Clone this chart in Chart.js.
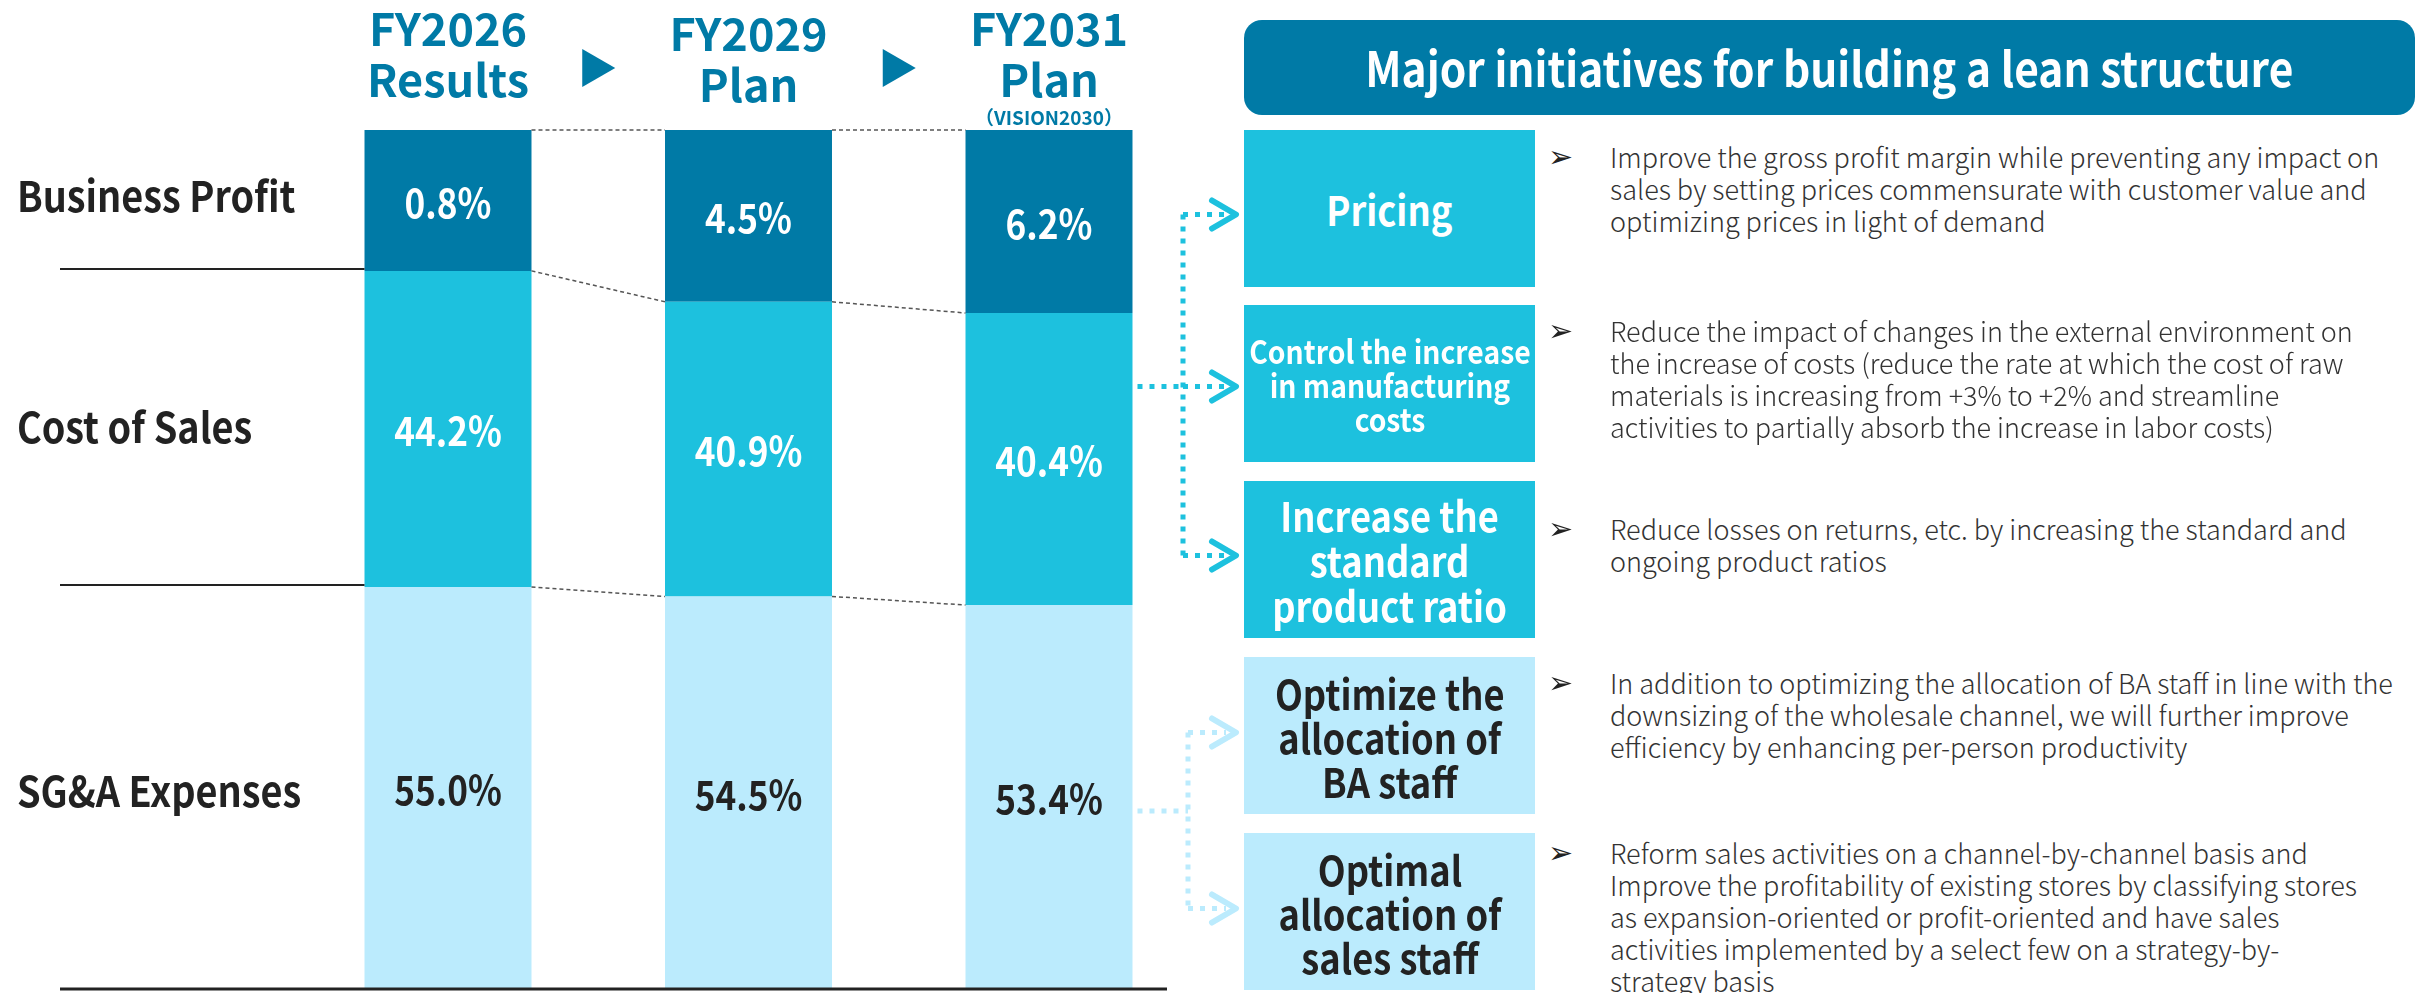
<!DOCTYPE html>
<html>
<head>
<meta charset="utf-8">
<script src="https://cdn.jsdelivr.net/npm/chart.js@4.4.1/dist/chart.umd.min.js"></script>
<style>
  body { margin: 0; width: 2433px; height: 993px; background: #fff; overflow: hidden; position: relative;
         font-family: "Noto Sans CJK JP", "Noto Sans", sans-serif; }
  #chart { position: absolute; left: 0; top: 0; }
  .title { position: absolute; left: 1244px; top: 20px; width: 1171px; height: 95px; border-radius: 18px;
           background: #007aa6; color: #fff; font-weight: 700; font-size: 48px; line-height: 93px; text-align: center; }
  .title span, .box span { display: inline-block; transform: scaleX(0.885); }
  .box { position: absolute; left: 1244px; width: 291px; height: 157px; display: flex; align-items: center;
         justify-content: center; text-align: center; font-weight: 700; white-space: nowrap; }
  .bullet { position: absolute; left: 1548px; font-family: "DejaVu Sans", sans-serif; font-size: 30px; color: #222; line-height: 32px; }
  .note { position: absolute; left: 1610px; font-size: 27px; line-height: 32px; color: #333; font-weight: 300; white-space: nowrap; }
</style>
</head>
<body>
<canvas id="chart" width="1250" height="993"></canvas>
<div class="title"><span>Major initiatives for building a lean structure</span></div>
<div id="panel"></div>
<script>
// Chart data
const years = ['FY2026', 'FY2029', 'FY2031'];
const yearSubs = ['Results', 'Plan', 'Plan'];
const rowNames = ['Business Profit', 'Cost of Sales', 'SG&A Expenses'];
const profitPct = [0.8, 4.5, 6.2];
const costPct = [44.2, 40.9, 40.4];
const sgaPct = [55.0, 54.5, 53.4];
// segment heights as drawn in the picture (share of each bar, the diagram is not to scale)
const profitShare = [16.4, 20.0, 21.3];
const costShare = [36.8, 34.3, 34.0];
const sgaShare = [46.8, 45.7, 44.7];

// Initiatives panel
const initiatives = [
    ['Pricing'],
    ['Control the increase', 'in manufacturing', 'costs'],
    ['Increase the', 'standard', 'product ratio'],
    ['Optimize the', 'allocation of', 'BA staff'],
    ['Optimal', 'allocation of', 'sales staff']
];
const notes = [
    ['Improve the gross profit margin while preventing any impact on',
     'sales by setting prices commensurate with customer value and',
     'optimizing prices in light of demand'],
    ['Reduce the impact of changes in the external environment on',
     'the increase of costs (reduce the rate at which the cost of raw',
     'materials is increasing from +3% to +2% and streamline',
     'activities to partially absorb the increase in labor costs)'],
    ['Reduce losses on returns, etc. by increasing the standard and',
     'ongoing product ratios'],
    ['In addition to optimizing the allocation of BA staff in line with the',
     'downsizing of the wholesale channel, we will further improve',
     'efficiency by enhancing per-person productivity'],
    ['Reform sales activities on a channel-by-channel basis and',
     'Improve the profitability of existing stores by classifying stores',
     'as expansion-oriented or profit-oriented and have sales',
     'activities implemented by a select few on a strategy-by-',
     'strategy basis']
];

const DARK = '#007aa6';
const CYAN = '#1dc1de';
const LIGHT = '#bbebfd';

// panel layout
const boxTops = [130, 305, 481, 657, 833];
const boxH = 157;
const noteTops = [141, 315, 513, 667, 837];
const boxStyle = [
    { bg: CYAN, color: '#fff', size: 41, lh: 45 },
    { bg: CYAN, color: '#fff', size: 32, lh: 34 },
    { bg: CYAN, color: '#fff', size: 41, lh: 45 },
    { bg: LIGHT, color: '#222', size: 41, lh: 44 },
    { bg: LIGHT, color: '#222', size: 41, lh: 44 }
];

const panel = document.getElementById('panel');
initiatives.forEach((lines, i) => {
    const b = document.createElement('div');
    b.className = 'box';
    const s = boxStyle[i];
    b.style.top = boxTops[i] + 'px';
    b.style.background = s.bg;
    b.style.color = s.color;
    b.style.fontSize = s.size + 'px';
    b.style.lineHeight = s.lh + 'px';
    b.innerHTML = '<span>' + lines.join('<br>') + '</span>';
    panel.appendChild(b);

    const bu = document.createElement('div');
    bu.className = 'bullet';
    bu.style.top = noteTops[i] + 'px';
    bu.textContent = '\u27A2';
    panel.appendChild(bu);

    const n = document.createElement('div');
    n.className = 'note';
    n.style.top = noteTops[i] + 'px';
    n.innerHTML = notes[i].join('<br>');
    panel.appendChild(n);
});

const FONT = '"Noto Sans CJK JP", "Noto Sans", sans-serif';

// text squeezed a little in x, like the condensed face of the original
function squeezed(ctx, text, x, y, sx) {
    ctx.save();
    ctx.translate(x, y);
    ctx.scale(sx, 1);
    ctx.fillText(text, 0, 0);
    ctx.restore();
}

// draws labels, connectors and headers on top of the bars
const overlay = {
    id: 'overlay',
    afterDatasetsDraw(chart) {
        const ctx = chart.ctx;
        const xs = chart.scales.x;
        const sga = chart.getDatasetMeta(0).data;
        const cost = chart.getDatasetMeta(1).data;
        const prof = chart.getDatasetMeta(2).data;
        ctx.save();

        // dashed lines between bars
        ctx.strokeStyle = '#555';
        ctx.lineWidth = 1.5;
        ctx.setLineDash([4, 3]);
        for (let i = 0; i < years.length - 1; i++) {
            const a = prof[i], b = prof[i + 1];
            const ys = [[a.y, b.y], [a.base, b.base], [cost[i].base, cost[i + 1].base]];
            ys.forEach(([y1, y2]) => {
                ctx.beginPath();
                ctx.moveTo(a.x + a.width / 2, y1);
                ctx.lineTo(b.x - b.width / 2, y2);
                ctx.stroke();
            });
        }
        ctx.setLineDash([]);

        // value labels
        ctx.font = 'bold 40px ' + FONT;
        ctx.textAlign = 'center';
        ctx.textBaseline = 'middle';
        const sets = [[prof, profitPct, '#fff'], [cost, costPct, '#fff'], [sga, sgaPct, '#222']];
        sets.forEach(([bars, vals, col]) => {
            bars.forEach((bar, i) => {
                ctx.fillStyle = col;
                squeezed(ctx, vals[i].toFixed(1) + '%', bar.x, (bar.y + bar.base) / 2 + 2, 0.88);
            });
        });

        // row labels and left rules
        ctx.textAlign = 'left';
        ctx.fillStyle = '#222';
        ctx.font = 'bold 42px ' + FONT;
        const first = [prof[0], cost[0], sga[0]];
        const shift = [-4, -2, 3];
        first.forEach((bar, r) => {
            squeezed(ctx, rowNames[r], 17, (bar.y + bar.base) / 2 + shift[r], 0.9);
        });
        ctx.strokeStyle = '#222';
        ctx.lineWidth = 2;
        const left = prof[0].x - prof[0].width / 2;
        [prof[0].base - 2, cost[0].base - 2].forEach(y => {
            ctx.beginPath();
            ctx.moveTo(60, y);
            ctx.lineTo(left, y);
            ctx.stroke();
        });
        ctx.lineWidth = 3;
        ctx.beginPath();
        ctx.moveTo(60, chart.chartArea.bottom);
        ctx.lineTo(1167, chart.chartArea.bottom);
        ctx.stroke();

        // headers
        ctx.textAlign = 'center';
        ctx.fillStyle = DARK;
        years.forEach((yr, i) => {
            const cx = xs.getPixelForValue(i);
            const dy = i === 1 ? 5 : 0;
            ctx.font = 'bold 45px ' + FONT;
            ctx.fillText(yr, cx, 29 + dy);
            ctx.fillText(yearSubs[i], cx, 80 + dy);
        });
        ctx.font = 'bold 19px ' + FONT;
        ctx.fillText('（VISION2030）', xs.getPixelForValue(2), 118);
        for (let i = 0; i < years.length - 1; i++) {
            const mx = (xs.getPixelForValue(i) + xs.getPixelForValue(i + 1)) / 2;
            ctx.beginPath();
            ctx.moveTo(mx - 16, 49);
            ctx.lineTo(mx + 17, 68);
            ctx.lineTo(mx - 16, 87);
            ctx.closePath();
            ctx.fill();
        }

        // dotted connectors to the initiative boxes
        const barRight = prof[2].x + prof[2].width / 2;
        const centers = boxTops.map(t => t + boxH / 2);
        const branch = (color, vx, fromY, targets) => {
            ctx.strokeStyle = color;
            ctx.lineWidth = 5;
            ctx.setLineDash([5, 7]);
            ctx.lineCap = 'butt';
            ctx.beginPath();
            ctx.moveTo(barRight + 5, fromY);
            ctx.lineTo(vx, fromY);
            ctx.moveTo(vx, targets[0]);
            ctx.lineTo(vx, targets[targets.length - 1]);
            targets.forEach(t => {
                ctx.moveTo(vx, t);
                ctx.lineTo(1226, t);
            });
            ctx.stroke();
            ctx.setLineDash([]);
            ctx.lineCap = 'round';
            ctx.lineJoin = 'round';
            ctx.lineWidth = 6;
            targets.forEach(t => {
                ctx.beginPath();
                ctx.moveTo(1212, t - 14);
                ctx.lineTo(1236, t);
                ctx.lineTo(1212, t + 14);
                ctx.stroke();
            });
        };
        branch(CYAN, 1183, centers[1] + 3, [centers[0] + 6, centers[1] + 3, centers[2] - 4]);
        branch(LIGHT, 1188, 811, [centers[3] - 3, centers[4] - 3]);

        ctx.restore();
    }
};

new Chart(document.getElementById('chart'), {
    type: 'bar',
    data: {
        labels: years,
        datasets: [
            { label: rowNames[2], data: sgaShare, backgroundColor: LIGHT },
            { label: rowNames[1], data: costShare, backgroundColor: CYAN },
            { label: rowNames[0], data: profitShare, backgroundColor: DARK }
        ]
    },
    options: {
        responsive: false,
        animation: false,
        datasets: {
            bar: { barPercentage: 1, categoryPercentage: 0.5557, borderWidth: 0 }
        },
        layout: { padding: { left: 297.75, right: 50.75, top: 130, bottom: 4 } },
        scales: {
            x: { stacked: true, display: false },
            y: { stacked: true, display: false, min: 0, max: 100 }
        },
        plugins: {
            legend: { display: false },
            tooltip: { enabled: false }
        }
    },
    plugins: [overlay]
});
</script>
</body>
</html>
